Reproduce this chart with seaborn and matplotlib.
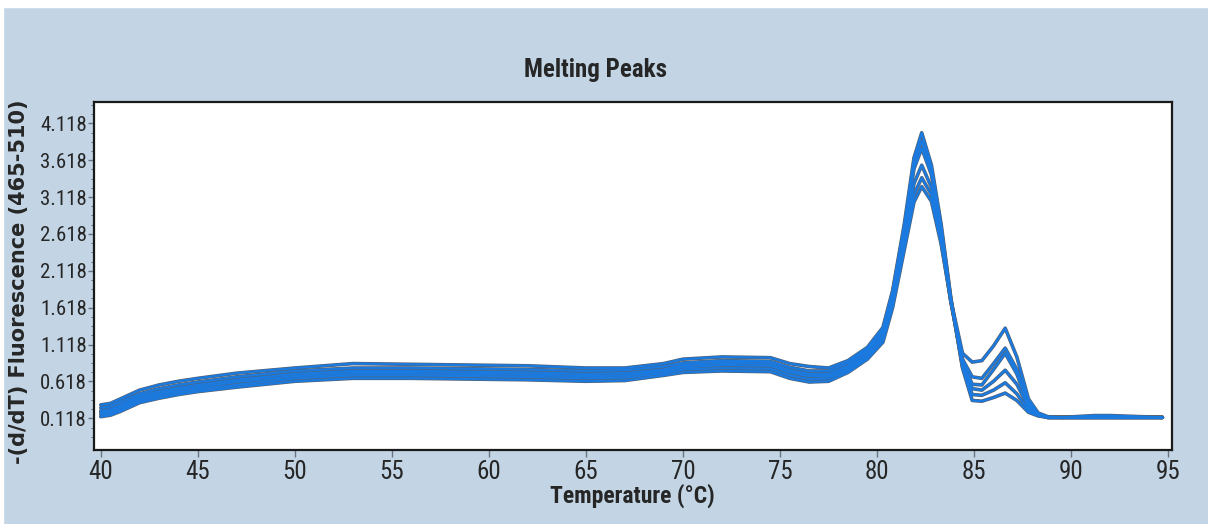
import matplotlib
matplotlib.use("Agg")
import matplotlib.pyplot as plt
import matplotlib.font_manager as fm
from matplotlib.patches import Rectangle
from matplotlib.ticker import FixedLocator
import seaborn as sns
import pandas as pd

# temperature grid (deg C)
temps = [40, 40.5, 41, 42, 43, 44, 45, 47, 50, 53, 56, 59, 62, 65, 67, 69, 70, 72,
         74.5, 75.5, 76.5, 77.5, 78.5, 79.5, 80.3, 80.8, 81.4, 81.9, 82.3, 82.8, 83.3,
         83.8, 84.4, 84.9, 85.4, 86, 86.6, 87.2, 87.8, 88.3, 88.8, 89.5, 91.2, 92, 94.7]

# -(d/dT) fluorescence for each sample
curve_1 = [0.30, 0.32, 0.38, 0.50, 0.57, 0.62, 0.66, 0.73, 0.80, 0.86, 0.85, 0.84, 0.83, 0.80, 0.80, 0.86, 0.92, 0.95,
           0.94, 0.86, 0.82, 0.80, 0.90, 1.08, 1.35, 1.85, 2.75, 3.65, 3.99, 3.55, 2.75,
           1.75, 0.80, 0.36, 0.35, 0.40, 0.46, 0.36, 0.20, 0.15, 0.13, 0.13, 0.13, 0.13, 0.13]
curve_2 = [0.26, 0.28, 0.34, 0.45, 0.52, 0.57, 0.61, 0.68, 0.76, 0.80, 0.80, 0.79, 0.78, 0.76, 0.77, 0.82, 0.87, 0.90,
           0.89, 0.81, 0.76, 0.76, 0.87, 1.05, 1.32, 1.82, 2.70, 3.58, 3.88, 3.48, 2.70,
           1.73, 0.82, 0.44, 0.43, 0.50, 0.60, 0.45, 0.23, 0.16, 0.13, 0.13, 0.13, 0.13, 0.13]
curve_3 = [0.22, 0.24, 0.30, 0.42, 0.48, 0.53, 0.57, 0.64, 0.72, 0.76, 0.76, 0.75, 0.74, 0.72, 0.73, 0.78, 0.84, 0.87,
           0.86, 0.77, 0.72, 0.72, 0.83, 1.02, 1.30, 1.80, 2.65, 3.50, 3.78, 3.42, 2.66,
           1.72, 0.85, 0.52, 0.50, 0.62, 0.77, 0.58, 0.27, 0.17, 0.13, 0.13, 0.155, 0.155, 0.13]
curve_4 = [0.20, 0.22, 0.27, 0.39, 0.45, 0.50, 0.54, 0.61, 0.69, 0.73, 0.73, 0.72, 0.71, 0.69, 0.70, 0.76, 0.81, 0.84,
           0.83, 0.74, 0.69, 0.69, 0.80, 0.98, 1.25, 1.72, 2.55, 3.30, 3.55, 3.25, 2.58,
           1.70, 0.88, 0.58, 0.57, 0.78, 1.00, 0.72, 0.30, 0.17, 0.13, 0.13, 0.13, 0.13, 0.13]
curve_5 = [0.17, 0.19, 0.24, 0.36, 0.42, 0.47, 0.51, 0.57, 0.66, 0.70, 0.70, 0.69, 0.68, 0.66, 0.67, 0.73, 0.78, 0.80,
           0.79, 0.70, 0.65, 0.66, 0.77, 0.95, 1.20, 1.68, 2.48, 3.15, 3.38, 3.15, 2.52,
           1.70, 0.92, 0.68, 0.66, 0.86, 1.07, 0.78, 0.33, 0.18, 0.13, 0.13, 0.13, 0.13, 0.13]
curve_6 = [0.14, 0.16, 0.21, 0.33, 0.39, 0.44, 0.48, 0.54, 0.62, 0.66, 0.66, 0.65, 0.64, 0.62, 0.63, 0.70, 0.74, 0.76,
           0.75, 0.66, 0.61, 0.62, 0.74, 0.92, 1.15, 1.62, 2.40, 3.05, 3.26, 3.06, 2.48,
           1.72, 1.00, 0.88, 0.90, 1.10, 1.34, 0.95, 0.38, 0.19, 0.14, 0.13, 0.13, 0.13, 0.13]

curves = [curve_1, curve_2, curve_3, curve_4, curve_5, curve_6]

x_ticks = [40, 45, 50, 55, 60, 65, 70, 75, 80, 85, 90, 95]
y_ticks = [0.118, 0.618, 1.118, 1.618, 2.118, 2.618, 3.118, 3.618, 4.118]

rows = []
for i, c in enumerate(curves):
    for t, v in zip(temps, c):
        rows.append({"sample": i, "temp": t, "value": v})
df = pd.DataFrame(rows)

sns.set_style("white")

# look for a narrow face, the reference uses a condensed font
fonts = fm.fontManager.ttflist
names = {f.name for f in fonts}
if "Roboto Condensed" in names:
    narrow_kw = {"family": ["Roboto Condensed", "DejaVu Sans"]}
elif any(f.name == "DejaVu Sans" and f.stretch == "condensed" for f in fonts):
    narrow_kw = {"family": ["DejaVu Sans"], "stretch": "condensed"}
elif "Liberation Sans Narrow" in names:
    narrow_kw = {"family": ["Liberation Sans Narrow", "DejaVu Sans"]}
else:
    narrow_kw = {"family": ["Roboto", "DejaVu Sans"]}

bg = "#c3d5e5"

fig = plt.figure(figsize=(12.08, 5.24), dpi=100, facecolor=bg)
# thin white strips at the top and left edge of the screenshot
fig.patches.append(Rectangle((0, 1 - 7 / 524), 1, 7 / 524, transform=fig.transFigure,
                             color="white", zorder=0))
fig.patches.append(Rectangle((0, 0), 3 / 1208, 1, transform=fig.transFigure,
                             color="white", zorder=0))

ax = fig.add_axes([0.0778, 0.1412, 0.8920, 0.6647])
ax.set_facecolor("white")

sns.lineplot(data=df, x="temp", y="value", units="sample", estimator=None,
             color="#56616d", linewidth=2.6, ax=ax, legend=False)
sns.lineplot(data=df, x="temp", y="value", units="sample", estimator=None,
             color="#1a7ae0", linewidth=1.7, ax=ax, legend=False)

ax.set_xlim(39.65, 95.17)
ax.set_ylim(-0.312, 4.411)
ax.xaxis.set_major_locator(FixedLocator(x_ticks))
ax.yaxis.set_major_locator(FixedLocator(y_ticks))
ax.yaxis.set_minor_locator(FixedLocator([0.118 + 0.125 * k for k in range(-2, 35)]))

ax.set_xticklabels([str(t) for t in x_ticks], fontsize=18, fontweight="normal", **narrow_kw)
ax.set_yticklabels([f"{t:.3f}" for t in y_ticks], fontsize=15, fontweight="normal", **narrow_kw)
ax.tick_params(axis="x", which="major", direction="out", length=5, width=1,
               color="#6a7480", pad=2, bottom=True)
ax.tick_params(axis="y", which="major", direction="out", length=4, width=1,
               color="#6a7480", pad=1, left=True)
ax.tick_params(axis="y", which="minor", direction="out", length=2, width=0.8,
               color="#6a7480", left=True)

for s in ax.spines.values():
    s.set_color("#1a1a1a")
    s.set_linewidth(1.6)

ax.set_xlabel("Temperature (°C)", fontsize=17, fontweight="bold", labelpad=0, **narrow_kw)
ax.set_ylabel("-(d/dT) Fluorescence (465-510)", fontsize=15, fontweight="bold",
              family=["DejaVu Sans"])
ax.yaxis.set_label_coords(-0.060, 0.483)
fig.text(0.493, 1 - 70 / 524, "Melting Peaks", ha="center", va="center",
         fontsize=18, fontweight="bold", **narrow_kw)

fig.savefig("out.png", dpi=100, facecolor=bg)
